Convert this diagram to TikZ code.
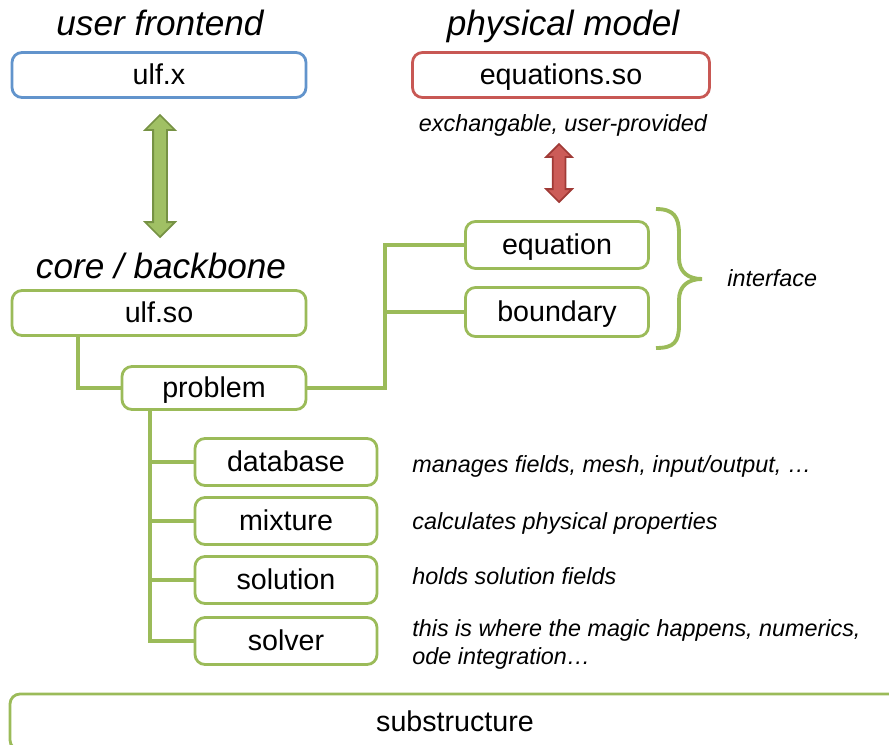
\documentclass[tikz,border=0pt]{standalone}
\usepackage{fontspec}
\setmainfont{Liberation Sans}
\usetikzlibrary{shapes.arrows}

\definecolor{ulfgreen}{RGB}{155,187,89}
\definecolor{ulfblue}{RGB}{98,148,204}
\definecolor{ulfred}{RGB}{200,88,84}
\definecolor{arrowgreen}{RGB}{160,192,100}
\definecolor{arrowgreendark}{RGB}{118,146,68}
\definecolor{arrowred}{RGB}{204,92,88}
\definecolor{arrowreddark}{RGB}{160,58,54}

\begin{document}
\begin{tikzpicture}[x=.2mm, y=-.2mm,
		box/.style={draw=ulfgreen, line width=1.6pt, rounded corners=2mm, fill=white, inner sep=0pt,
			font=\fontsize{16.3}{19}\selectfont, text height=13.5pt, text depth=2.4pt},
		wide/.style={box, minimum width=58.8mm, minimum height=9mm},
		small/.style={box, minimum width=36.6mm, minimum height=9.4mm},
		title/.style={font=\fontsize{20}{24}\selectfont\itshape, anchor=base},
		note/.style={font=\fontsize{13.3}{16}\selectfont\itshape, inner sep=0pt, text height=.72em, text depth=.21em},
		link/.style={ulfgreen, line width=2.2pt},
		bigarrow/.style={double arrow, rotate=90, line width=1pt}]
	\useasboundingbox (0,0) rectangle (889,744);
	
	% Titulos
	\node[title] (tfront) at (160,35) {user frontend};
	\node[title] (tmodel) at (563,35) {physical model};
	\node[title] (tcore) at (161,278) {core / backbone};
	
	% Cajas principales
	\node[wide, draw=ulfblue] (ulfx) at (159,75) {ulf.x};
	\node[wide, draw=ulfred, minimum width=59.4mm] (eqso) at (561,75) {equations.so};
	\node[wide] (ulfso) at (159,313) {ulf.so};
	\node[small, minimum width=36.8mm, minimum height=8.6mm] (problem) at (214,388) {problem};
	\node[small] (equation) at (557,245) {equation};
	\node[small, minimum height=9.8mm] (boundary) at (557,312) {boundary};
	\foreach \name/\y in {database/462, mixture/521, solution/580, solver/641}{
		\node[small, minimum width=36.4mm] (\name) at (286,\y) {\name};}
	\node[box, minimum width=178mm, minimum height=11.2mm] (sub) at (455,722) {substructure};
	
	% Flechas
	\node[bigarrow, draw=arrowgreendark, fill=arrowgreen, inner sep=1.2mm, minimum height=24.4mm,
		minimum width=5.6mm, double arrow head extend=1.6mm] (sync) at (160,176) {};
	\node[bigarrow, draw=arrowreddark, fill=arrowred, inner sep=1.1mm, minimum height=11.6mm,
		minimum width=4.8mm, double arrow head extend=1.3mm] (plug) at (559,173) {};
	\node[note] (exch) at (563,127) {exchangable, user-provided};
	
	% Conexiones
	\coordinate (trunk) at (78,0);
	\draw[link] (ulfso.south -| trunk) |- (problem.west);
	\coordinate (split) at (385,0);
	\draw[link] (problem.east) -| (split |- equation.west) -- (equation.west);
	\draw[link] (split |- boundary.west) -- (boundary.west);
	\coordinate (spine) at (150,0);
	\draw[link] (problem.south -| spine) |- (solver.west);
	\foreach \name in {database, mixture, solution}{
		\draw[link] (spine |- \name.west) -- (\name.west);}
	
	% Llave
	\draw[ulfgreen, line width=2.2pt] (656,209) .. controls (674,209) and (679,217) .. (679,234) -- (679,258)
		.. controls (679,272) and (688,279) .. (702,279) .. controls (688,279) and (679,286) .. (679,300)
		-- (679,325) .. controls (679,342) and (674,348) .. (656,348);
	\node[note, anchor=west] (iface) at (727,282) {interface};
	
	% Notas
	\node[note, anchor=west] (dbnote) at (412,468) {manages fields, mesh, input/output, …};
	\node[note, anchor=west] (mixnote) at (412,525) {calculates physical properties};
	\node[note, anchor=west] (solnote) at (412,580) {holds solution fields};
	\node[note, anchor=west, align=left] (solvnote) at (412,660) {this is where the magic happens, numerics,\\ode integration…};
\end{tikzpicture}
\end{document}
